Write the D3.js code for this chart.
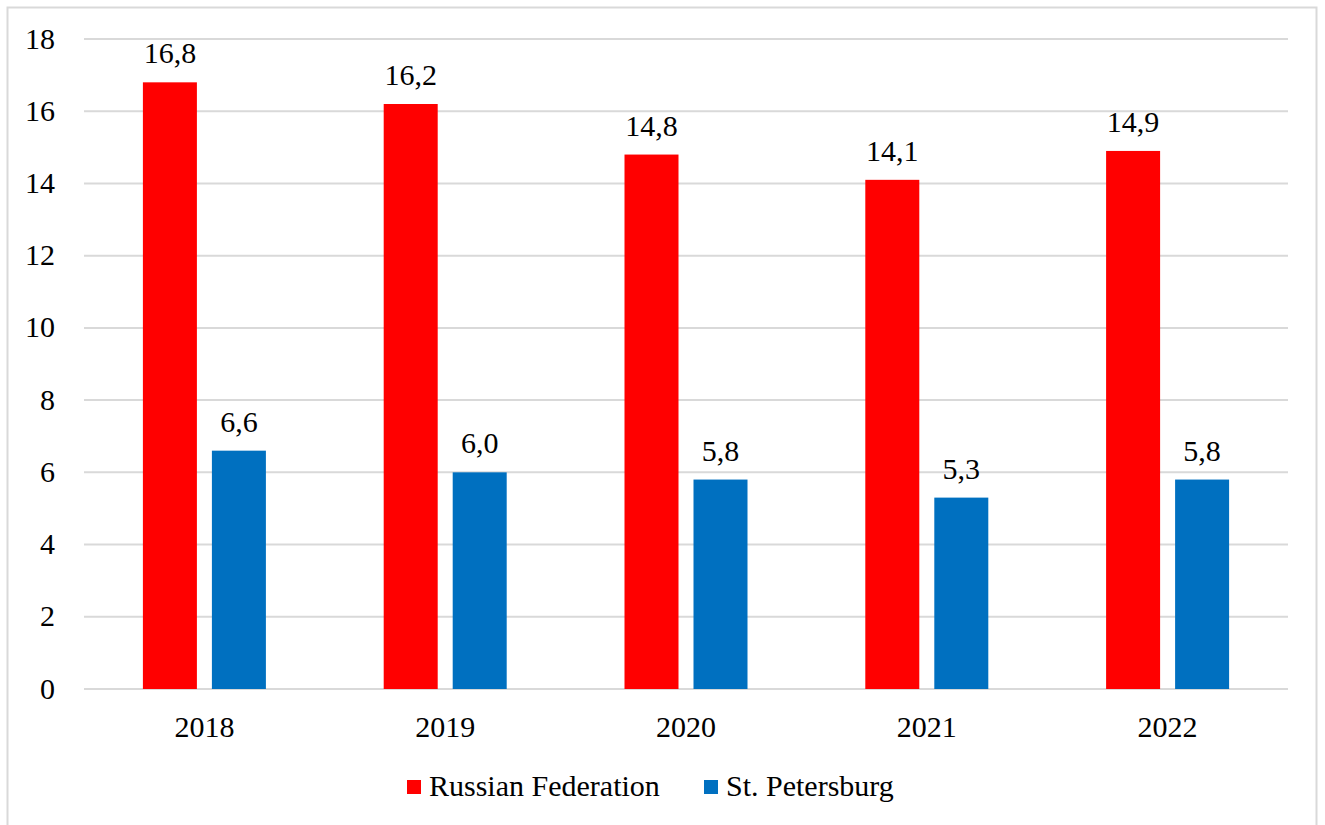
<!DOCTYPE html>
<html><head><meta charset="utf-8">
<script src="https://cdn.jsdelivr.net/npm/d3@7"></script>
<style>body{margin:0;background:#fff}svg{display:block}</style>
</head><body>
<script>
const years = ["2018","2019","2020","2021","2022"];
const seriesNames = ["Russian Federation","St. Petersburg"];
const russia = [16.8,16.2,14.8,14.1,14.9];
const spb = [6.6,6.0,5.8,5.3,5.8];
const yTicks = [0,2,4,6,8,10,12,14,16,18];
const colors = ["#FF0000","#0070C0"];

(function(){
const W=1325,H=825;
const svg=d3.select("body").append("svg").attr("width",W).attr("height",H);
const font="'Liberation Serif','Times New Roman',serif";
svg.append("rect").attr("x",7.5).attr("y",7.5).attr("width",1309).attr("height",830)
  .attr("fill","#fff").attr("stroke","#d9d9d9").attr("stroke-width",2);

const pLeft=84,pRight=1288,pTop=39,pBottom=689;
const x=d3.scaleBand().domain(years).range([pLeft,pRight]);
const y=d3.scaleLinear().domain([0,18]).range([pBottom,pTop]);
const barW=54,gap=15;
const inner=d3.scaleOrdinal().domain([0,1]).range([-(gap/2+barW),gap/2]);

// grid
svg.append("g").selectAll("line").data(yTicks).join("line")
  .attr("x1",pLeft).attr("x2",pRight).attr("y1",d=>y(d)).attr("y2",d=>y(d))
  .attr("stroke","#d9d9d9").attr("stroke-width",2);

// y axis labels
const yAxis=d3.axisLeft(y).tickValues(yTicks).tickSize(0).tickPadding(0).tickFormat(d3.format("d"));
const ya=svg.append("g").attr("transform",`translate(55,0)`).call(yAxis);
ya.select(".domain").remove();
ya.selectAll("text").attr("font-family",font).attr("font-size",30).attr("fill","#000").attr("dy","0.3em");

// x axis labels
const xAxis=d3.axisBottom(x).tickSize(0).tickPadding(0);
const xa=svg.append("g").attr("transform",`translate(0,${pBottom})`).call(xAxis);
xa.select(".domain").remove();
xa.selectAll("text").attr("font-family",font).attr("font-size",30).attr("fill","#000").attr("dy",null).attr("y",48);

const data=[russia,spb];
const fmt=v=>d3.format(".1f")(v).replace(".",",");
data.forEach((vals,si)=>{
  const g=svg.append("g");
  g.selectAll("rect").data(vals).join("rect")
    .attr("x",(d,i)=>x(years[i])+x.bandwidth()/2+inner(si))
    .attr("width",barW)
    .attr("y",d=>y(d)).attr("height",d=>pBottom-y(d))
    .attr("fill",colors[si]);
  g.selectAll("text").data(vals).join("text")
    .attr("x",(d,i)=>x(years[i])+x.bandwidth()/2+inner(si)+barW/2)
    .attr("y",d=>y(d)-19)
    .attr("text-anchor","middle").attr("font-family",font).attr("font-size",30).attr("fill","#000")
    .text(fmt);
});

// legend
const legX=[407,704];
const lg=svg.append("g");
seriesNames.forEach((n,i)=>{
  lg.append("rect").attr("x",legX[i]).attr("y",780).attr("width",14).attr("height",14).attr("fill",colors[i]);
  lg.append("text").attr("x",legX[i]+22).attr("y",796).attr("font-family",font).attr("font-size",30).attr("fill","#000").text(n);
});
})();
</script>
</body></html>
